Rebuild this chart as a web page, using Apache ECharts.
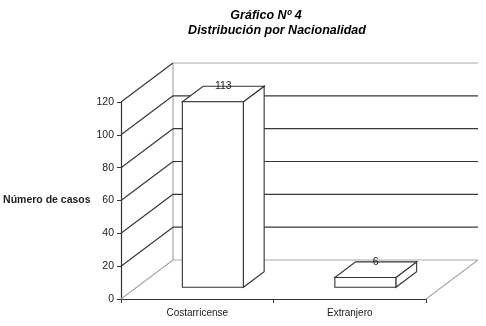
<!DOCTYPE html>
<html>
<head>
<meta charset="utf-8">
<script src="https://cdn.jsdelivr.net/npm/echarts@6/dist/echarts.min.js"></script>
<style>
html,body{margin:0;padding:0;background:#fff;}
#chart{width:486px;height:326px;}
</style>
</head>
<body>
<div id="chart"></div>
<script>
var categories = ['Costarricense', 'Extranjero'];
var values = [113, 6];
var yTicks = [0, 20, 40, 60, 80, 100, 120];
var titleLine1 = 'Gráfico Nº 4';
var titleLine2 = 'Distribución por Nacionalidad';
var yName = 'Número de casos';

// oblique depth offset of the 3D box (pixels)
var DX = 52, DY = -39;
var FONT = 'Liberation Sans, Arial, sans-serif';

var chart = echarts.init(document.getElementById('chart'), null, {renderer: 'canvas'});

function wallItem(params, api) {
  var cs = params.coordSys;
  var v = api.value(0);
  var x0 = cs.x, x1 = cs.x + cs.width;
  var y = api.coord([0, v])[1];
  var dark = '#383838', light = '#aaaaaa';
  var maxV = yTicks[yTicks.length - 1];
  var children = [];
  var isFloor = v === 0, isTop = v === maxV;
  children.push({type: 'line', shape: {x1: x0, y1: y, x2: x0 + DX, y2: y + DY},
    style: {stroke: isFloor ? light : dark, lineWidth: 1.2}});
  children.push({type: 'line', shape: {x1: x0 + DX, y1: y + DY, x2: x1 + DX, y2: y + DY},
    style: {stroke: (isFloor || isTop) ? light : dark, lineWidth: 1.2}});
  if (isFloor) {
    var yTop = api.coord([0, maxV])[1];
    children.push({type: 'line', shape: {x1: x1, y1: y, x2: x1 + DX, y2: y + DY},
      style: {stroke: light, lineWidth: 1.2}});
    children.push({type: 'line', shape: {x1: x0 + DX, y1: y + DY, x2: x0 + DX, y2: yTop + DY},
      style: {stroke: light, lineWidth: 1.2}});
  }
  return {type: 'group', children: children};
}

function barItem(params, api) {
  var i = api.value(0), v = api.value(1);
  var c = api.coord([i, v]);
  var b = api.coord([i, 0]);
  var bw = api.size([1, 0])[0] * 0.4;
  var f = 0.3, d = 0.4;
  var xl = c[0] - bw / 2 + f * DX, xr = xl + bw;
  var yt = c[1] + f * DY, yb = b[1] + f * DY;
  var ddx = d * DX, ddy = d * DY;
  var st = {fill: '#fff', stroke: '#333', lineWidth: 1.1};
  return {type: 'group', children: [
    {type: 'polygon', shape: {points: [[xr, yt], [xr + ddx, yt + ddy], [xr + ddx, yb + ddy], [xr, yb]]}, style: st},
    {type: 'polygon', shape: {points: [[xl, yt], [xr, yt], [xr + ddx, yt + ddy], [xl + ddx, yt + ddy]]}, style: st},
    {type: 'rect', shape: {x: xl, y: yt, width: bw, height: yb - yt}, style: st},
    {type: 'text', x: c[0] + (f + d / 2) * DX, y: c[1] + (f + d / 2) * DY - 2,
      style: {text: String(v), fill: '#222', font: '10.5px ' + FONT, align: 'center', verticalAlign: 'bottom'}}
  ]};
}

var option = {
  animation: false,
  backgroundColor: '#fff',
  graphic: [
    {type: 'text', x: 266, y: 16, style: {text: titleLine1, font: 'italic bold 12.5px ' + FONT, fill: '#000', align: 'center', verticalAlign: 'middle'}},
    {type: 'text', x: 277, y: 31, style: {text: titleLine2, font: 'italic bold 12.5px ' + FONT, fill: '#000', align: 'center', verticalAlign: 'middle'}}
  ],
  grid: {left: 121, right: 60, top: 102, bottom: 27, containLabel: false},
  xAxis: {
    type: 'category',
    data: categories,
    boundaryGap: true,
    axisLine: {show: true, lineStyle: {color: '#333', width: 1.2}},
    axisTick: {show: true, length: 4, alignWithLabel: false, lineStyle: {color: '#333'}},
    axisLabel: {color: '#222', fontSize: 10, fontFamily: FONT, margin: 9},
    splitLine: {show: false}
  },
  yAxis: {
    type: 'value',
    min: 0, max: 120, interval: 20,
    name: yName,
    nameLocation: 'middle',
    nameRotate: 0,
    nameGap: 29,
    nameTextStyle: {color: '#222', fontSize: 10.5, fontWeight: 'bold', fontFamily: FONT, align: 'right'},
    axisLine: {show: true, lineStyle: {color: '#333', width: 1.2}},
    axisTick: {show: true, length: 4, lineStyle: {color: '#333'}},
    axisLabel: {color: '#222', fontSize: 10.5, fontFamily: FONT, margin: 7},
    splitLine: {show: false}
  },
  series: [
    {type: 'custom', renderItem: wallItem, data: yTicks.map(function (t) { return [t]; }), z: 1, silent: true},
    {type: 'custom', renderItem: barItem, data: values.map(function (v, i) { return [i, v]; }), z: 2, silent: true}
  ]
};
chart.setOption(option);
</script>
</body>
</html>
